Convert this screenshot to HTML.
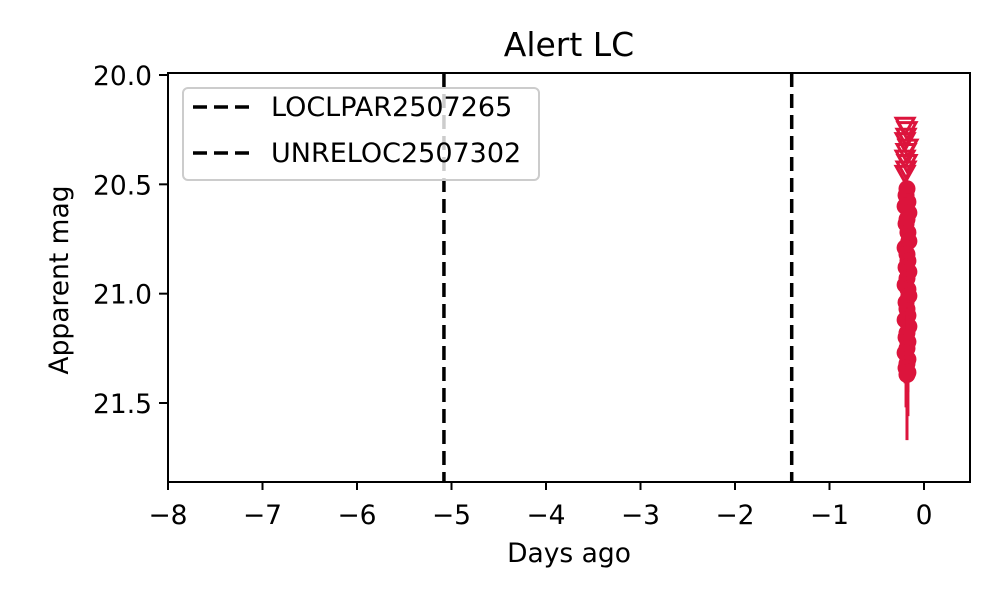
<!DOCTYPE html>
<html><head><meta charset="utf-8"><style>body{margin:0;background:#fff}svg text{font-family:"DejaVu Sans","Liberation Sans",sans-serif;fill:#000}</style></head>
<body>
<svg id="c" width="1000" height="600" xmlns="http://www.w3.org/2000/svg">
<text x="569" y="56" font-size="33" text-anchor="middle">Alert LC</text>
<g id="plot"></g>
<rect x="168" y="73" width="802" height="409" fill="none" stroke="#000" stroke-width="2"/>
<text x="569" y="562" font-size="26.5" text-anchor="middle">Days ago</text>
<text transform="translate(68,280) rotate(-90)" font-size="26.5" text-anchor="middle">Apparent mag</text>
<g>
<rect x="183" y="88" width="356" height="92" rx="5" fill="#fff" fill-opacity="0.8" stroke="#ccc" stroke-width="2"/>
<line x1="193" y1="107" x2="249" y2="107" stroke="#000" stroke-width="3.5" stroke-dasharray="14,7"/>
<text x="271" y="116" font-size="27">LOCLPAR2507265</text>
<line x1="193" y1="153" x2="249" y2="153" stroke="#000" stroke-width="3.5" stroke-dasharray="14,7"/>
<text x="271" y="162" font-size="27">UNRELOC2507302</text>
</g>
</svg>
<script>
const xTicks=[-8,-7,-6,-5,-4,-3,-2,-1,0];
const yTicks=[20.0,20.5,21.0,21.5];
const vlines=[-5.08,-1.4];
const detDays=[-0.18,-0.19,-0.17,-0.2,-0.16,-0.18,-0.19,-0.17,-0.16,-0.2,-0.18,-0.17,-0.19,-0.16,-0.18,-0.2,-0.17,-0.16,-0.19,-0.18,-0.17,-0.2,-0.16,-0.18,-0.19,-0.17,-0.18,-0.2,-0.17,-0.18,-0.19,-0.17,-0.18];
const detMags=[20.52,20.55,20.58,20.6,20.63,20.66,20.68,20.72,20.76,20.79,20.82,20.85,20.88,20.9,20.93,20.96,20.98,21.01,21.04,21.07,21.1,21.12,21.15,21.18,21.2,21.22,21.25,21.27,21.3,21.32,21.34,21.36,21.37];
const detErr=[0.03,0.03,0.04,0.04,0.04,0.05,0.05,0.05,0.06,0.06,0.06,0.07,0.07,0.07,0.08,0.08,0.08,0.09,0.09,0.1,0.1,0.1,0.11,0.11,0.12,0.12,0.13,0.14,0.15,0.22,0.18,0.2,0.3];
const limDays=[-0.2,-0.18,-0.19,-0.2,-0.17,-0.19,-0.2,-0.18,-0.19,-0.2];
const limMags=[20.23,20.25,20.28,20.3,20.33,20.35,20.38,20.4,20.43,20.45];
const X=d=>168+(d+8)*(756/8);
const Y=m=>75+(m-20)*(328/1.5);
const svg=document.getElementById('c'),g=document.getElementById('plot');
const NS='http://www.w3.org/2000/svg';
function mk(t,a,p){const e=document.createElementNS(NS,t);for(const k in a)e.setAttribute(k,a[k]);(p||g).appendChild(e);return e;}
xTicks.forEach(t=>{const x=X(t);
const l=mk('line',{x1:x,x2:x,y1:482,y2:490,stroke:'#000','stroke-width':2},svg);


const tx=mk('text',{x:x,y:524,'font-size':26.5,'text-anchor':'middle'},svg);tx.textContent=(t<0?'\u2212'+(-t):t);

});
yTicks.forEach(t=>{const y=Y(t);
const l=mk('line',{x1:159,x2:168,y1:y,y2:y,stroke:'#000','stroke-width':2},svg);


const tx=mk('text',{x:152,y:y+10,'font-size':26.5,'text-anchor':'end'},svg);tx.textContent=t.toFixed(1);

});
vlines.forEach(v=>{const l=mk('line',{x1:X(v),x2:X(v),y1:73,y2:482,stroke:'#000','stroke-width':3.5,'stroke-dasharray':'14,7'});

});
detDays.forEach((d,i)=>{const x=X(d),y=Y(detMags[i]);
const e=mk('line',{x1:x,x2:x,y1:Y(detMags[i]-detErr[i]),y2:Y(detMags[i]+detErr[i]),stroke:'#dc143c','stroke-width':3});


const c=mk('circle',{cx:x,cy:y,r:8.5,fill:'#dc143c'});

});
limDays.forEach((d,i)=>{const x=X(d),y=Y(limMags[i]);
const p=mk('polygon',{points:`${x-9},${y-7} ${x+9},${y-7} ${x},${y+9}`,fill:'none',stroke:'#dc143c','stroke-width':3});

});
</script>
</body></html>
